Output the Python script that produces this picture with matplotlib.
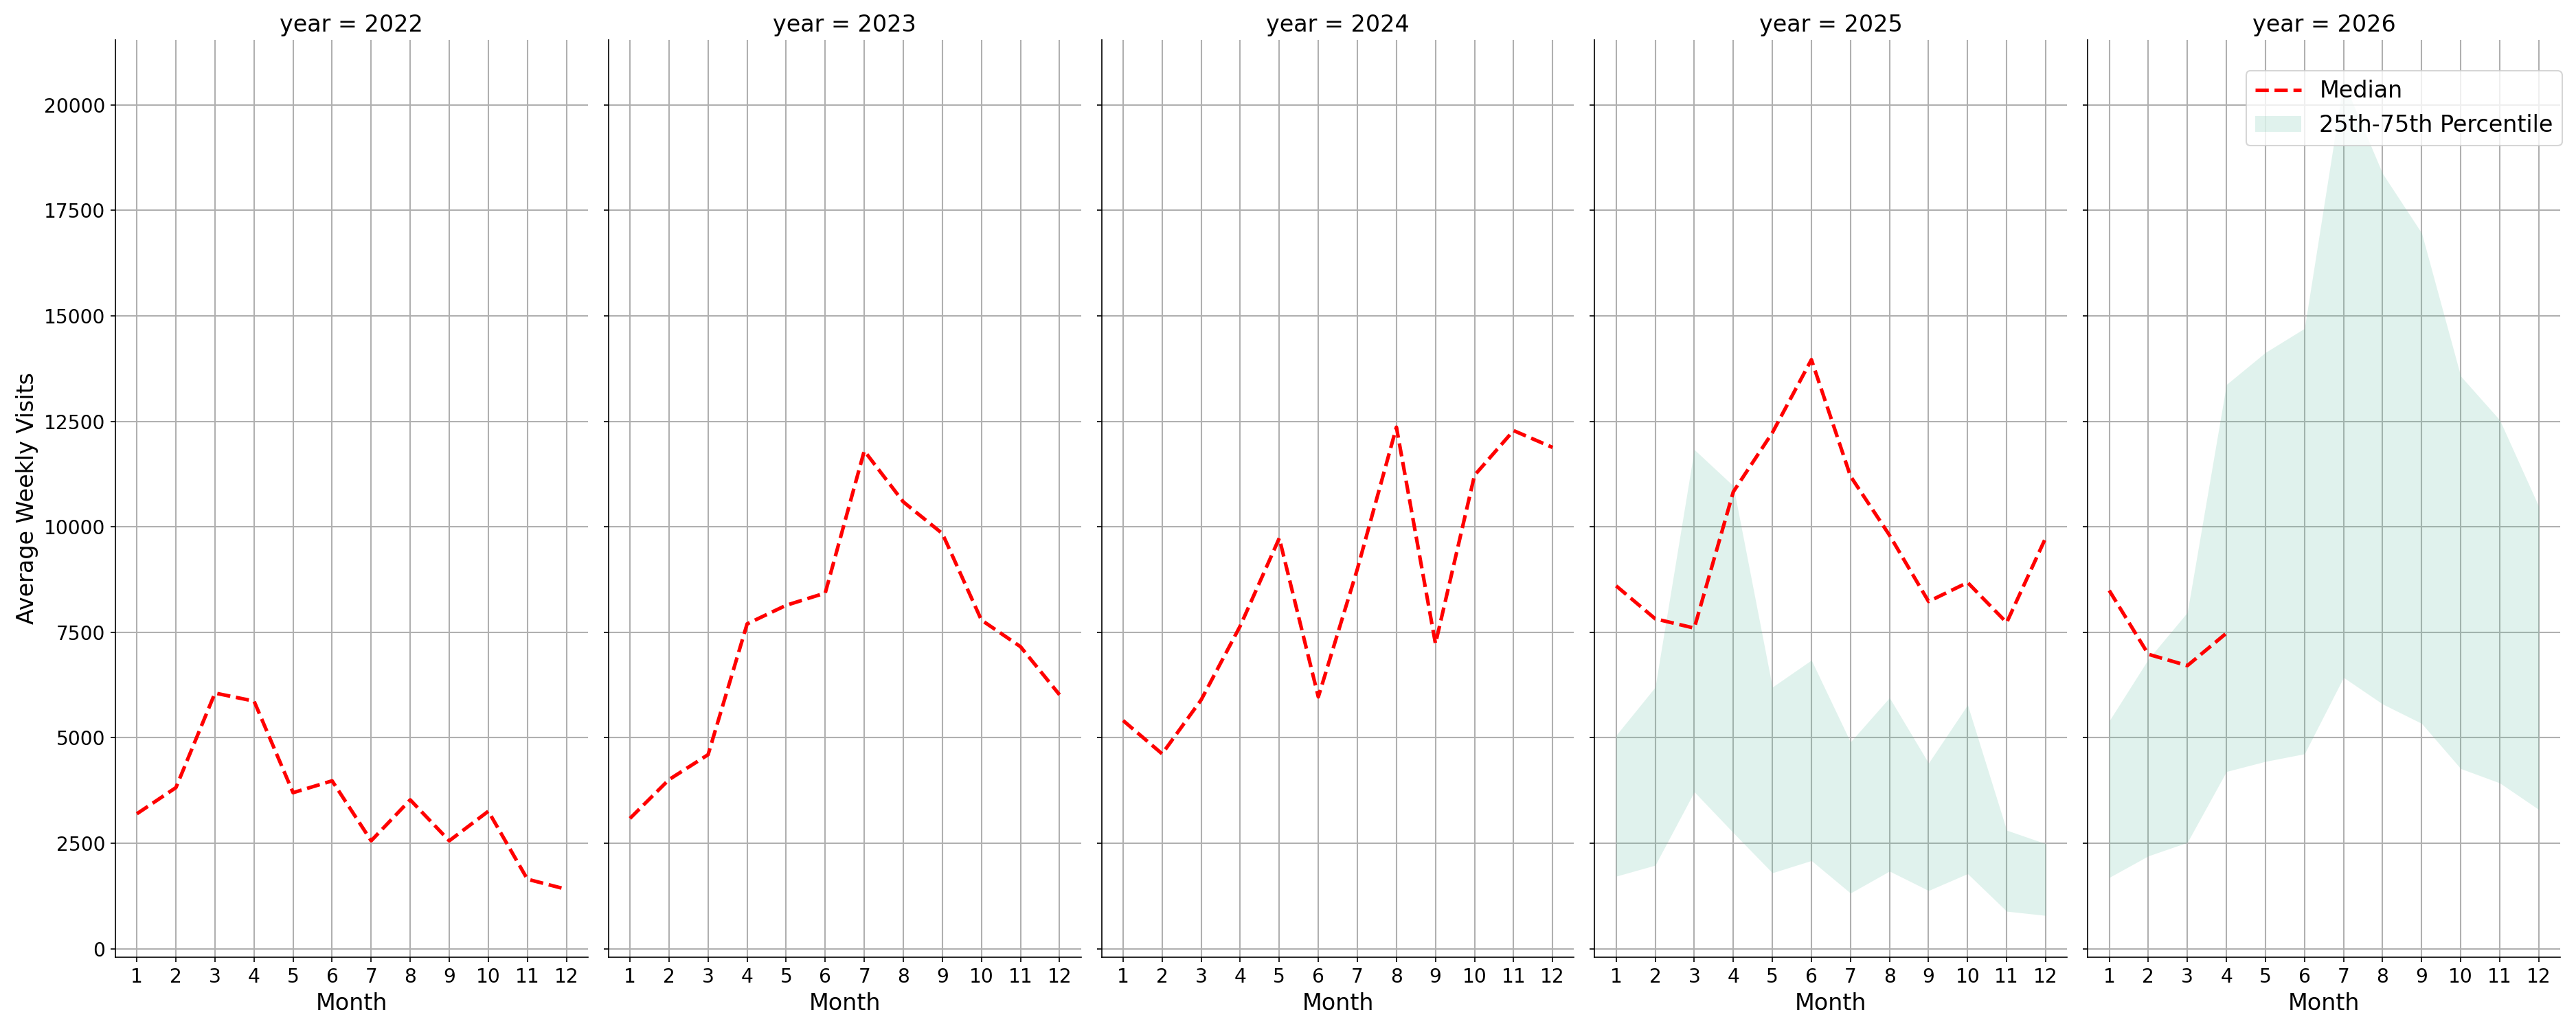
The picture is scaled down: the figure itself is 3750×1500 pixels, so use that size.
import numpy as np
import matplotlib
matplotlib.use("Agg")
import matplotlib.pyplot as plt

# monthly median of average weekly visits, one list per year
months = list(range(1, 13))
years = [2022, 2023, 2024, 2025, 2026]

median_2022 = [3200, 3820, 6060, 5870, 3700, 3980, 2560, 3530, 2560, 3260, 1650, 1410]
median_2023 = [3090, 4010, 4600, 7700, 8140, 8430, 11800, 10590, 9840, 7790, 7160, 6020]
median_2024 = [5410, 4620, 5900, 7650, 9730, 5970, 9000, 12360, 7230, 11220, 12280, 11880]
median_2025 = [8600, 7820, 7600, 10830, 12230, 13960, 11200, 9800, 8230, 8680, 7730, 9740]
median_2026 = [8490, 6980, 6710, 7480]

# 25th / 75th percentile bands (only for the last two years)
p25_2025 = [1720, 1980, 3720, 2750, 1800, 2090, 1320, 1840, 1380, 1780, 890, 790]
p75_2025 = [5060, 6200, 11830, 10970, 6200, 6840, 4900, 5950, 4400, 5780, 2810, 2490]
p25_2026 = [1690, 2200, 2520, 4200, 4440, 4620, 6430, 5800, 5340, 4270, 3930, 3300]
p75_2026 = [5400, 6860, 7970, 13370, 14130, 14700, 20550, 18370, 16960, 13570, 12530, 10480]

medians = {2022: median_2022, 2023: median_2023, 2024: median_2024,
           2025: median_2025, 2026: median_2026}
bands = {2025: (p25_2025, p75_2025), 2026: (p25_2026, p75_2026)}

fig, axes = plt.subplots(1, 5, figsize=(25, 10), dpi=150, sharey=True)
fig.subplots_adjust(left=0.0448, right=0.9939, top=0.9613, bottom=0.0707, wspace=0.0436)

for ax, yr in zip(axes, years):
    ax.set_axisbelow(True)
    ax.grid(True, color="#b0b0b0", linewidth=1.0)
    if yr in bands:
        lo, hi = bands[yr]
        ax.fill_between(months, lo, hi, color="#66c2a5", alpha=0.2, linewidth=0,
                        label="25th-75th Percentile")
    med = medians[yr]
    ax.plot(months[:len(med)], med, color="red", linestyle="--", linewidth=2.5, label="Median")
    ax.set_title(f"year = {yr}", fontsize=16)
    ax.set_xlabel("Month", fontsize=16)
    ax.set_xticks(months)
    ax.tick_params(axis="both", labelsize=13.5)
    ax.spines["top"].set_visible(False)
    ax.spines["right"].set_visible(False)

axes[0].set_ylabel("Average Weekly Visits", fontsize=16)

handles, labels = axes[-1].get_legend_handles_labels()
order = [labels.index("Median"), labels.index("25th-75th Percentile")]
axes[-1].legend([handles[i] for i in order], [labels[i] for i in order],
                loc="upper right", bbox_to_anchor=(1.0044, 0.9663),
                borderaxespad=0, fontsize=16)

fig.savefig("out.png", dpi=150)
